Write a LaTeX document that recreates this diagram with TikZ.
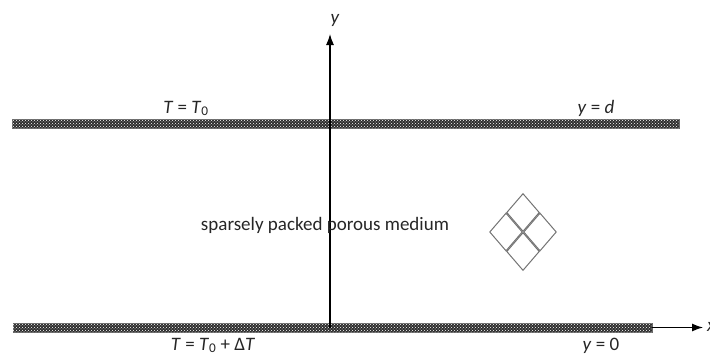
\documentclass[tikz,border=0pt]{standalone}
\usepackage{fontspec}
\setmainfont{Carlito}
\usetikzlibrary{patterns,arrows.meta}
\tikzset{
  plate/.style={draw=black!60, line width=0.6pt, fill=black!82, inner sep=0pt, minimum height=9pt,
    postaction={pattern=crosshatch dots, pattern color=white!70}},
  axis/.style={line width=1.2pt, -{Latex[length=11pt,width=8pt]}},
  lbl/.style={font=\fontsize{19}{21}\selectfont, anchor=base, inner sep=0pt, text=black!85},
  cell/.style={draw=black!55, line width=1pt}
}
\begin{document}
\begin{tikzpicture}[x=1pt,y=-1pt]
\useasboundingbox (0,0) rectangle (710,356);
% plates
\node[plate, minimum width=667pt] (top) at (345.5,123.5) {};
\node[plate, minimum width=639pt] (bot) at (332.5,327.5) {};
% axes
\coordinate (ybase) at (330,327.5);
\coordinate (ytip) at (330,34);
\coordinate (xtip) at (703,327.5);
\draw[axis] (bot.east) -- (xtip);
\draw[axis] (ybase) -- (ytip);
\node[lbl, anchor=center] (ylab) at (335,20) {\textit{y}};
\node[lbl, anchor=west] (xlab) at (707,327) {\textit{x}};
% labels
\node[lbl] (tt) at (186,113) {\textit{T} = \textit{T}\textsubscript{0}};
\node[lbl] (yd) at (596,113) {\textit{y} = \textit{d}};
\node[lbl] (tb) at (213,350) {\textit{T} = \textit{T}\textsubscript{0} + Δ\textit{T}};
\node[lbl] (y0) at (601,350) {\textit{y} = 0};
\node[lbl] (med) at (325,230) {sparsely packed porous medium};
% porous cells
\foreach \cx/\cy in {506/232, 540/232, 523/212.5, 523/251.5}{
  \draw[cell] (\cx-16.2,\cy) -- (\cx,\cy-18.8) -- (\cx+16.2,\cy) -- (\cx,\cy+18.8) -- cycle;
}
\end{tikzpicture}
\end{document}
